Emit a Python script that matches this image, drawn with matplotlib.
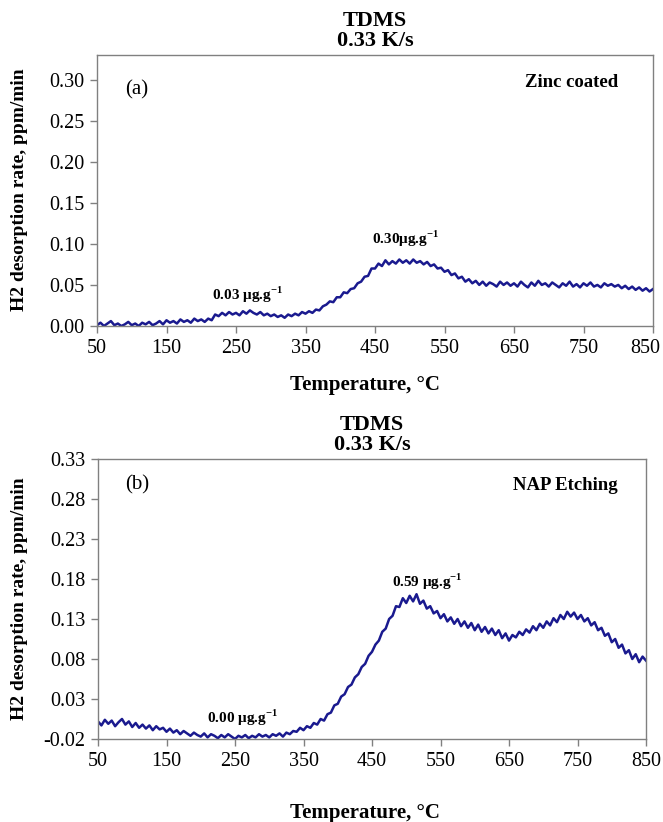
import numpy as np
import matplotlib
matplotlib.use("Agg")
import matplotlib.pyplot as plt
from matplotlib.transforms import ScaledTranslation

plt.rcParams['font.family'] = ['Liberation Serif', 'DejaVu Serif']
plt.rcParams['mathtext.fontset'] = 'custom'
plt.rcParams['mathtext.rm'] = 'Liberation Serif'
plt.rcParams['mathtext.bf'] = 'Liberation Serif:bold'
plt.rcParams['axes.unicode_minus'] = False

# Temperature axis, one reading every 5 degC
temp = np.arange(50, 851, 5)

# (a) Zinc coated, ppm/min
rate_a = [
    0.001, 0.004, 0.000, 0.003, 0.006, 0.001, 0.003, 0.000, 0.002, 0.005,
    0.001, 0.003, 0.000, 0.004, 0.002, 0.005, 0.001, 0.003, 0.006, 0.002,
    0.007, 0.004, 0.006, 0.003, 0.008, 0.005, 0.007, 0.004, 0.009, 0.006,
    0.008, 0.005, 0.009, 0.007, 0.014, 0.012, 0.016, 0.013, 0.017, 0.014,
    0.016, 0.013, 0.018, 0.015, 0.019, 0.016, 0.014, 0.017, 0.013, 0.015,
    0.012, 0.014, 0.011, 0.013, 0.010, 0.014, 0.012, 0.015, 0.013, 0.017,
    0.015, 0.018, 0.016, 0.020, 0.019, 0.024, 0.026, 0.030, 0.029, 0.035,
    0.035, 0.041, 0.040, 0.045, 0.046, 0.052, 0.054, 0.060, 0.061, 0.070,
    0.070, 0.076, 0.073, 0.080, 0.075, 0.079, 0.076, 0.081, 0.077, 0.080,
    0.076, 0.081, 0.077, 0.079, 0.075, 0.078, 0.073, 0.075, 0.070, 0.071,
    0.066, 0.068, 0.062, 0.064, 0.058, 0.060, 0.054, 0.057, 0.052, 0.055,
    0.050, 0.054, 0.049, 0.053, 0.051, 0.048, 0.054, 0.050, 0.053, 0.049,
    0.052, 0.048, 0.054, 0.050, 0.047, 0.053, 0.049, 0.055, 0.050, 0.052,
    0.048, 0.053, 0.050, 0.047, 0.052, 0.049, 0.054, 0.048, 0.051, 0.047,
    0.052, 0.049, 0.053, 0.048, 0.050, 0.047, 0.052, 0.049, 0.051, 0.048,
    0.050, 0.046, 0.049, 0.045, 0.048, 0.044, 0.047, 0.043, 0.046, 0.042,
    0.045,
]

# (b) NAP Etching, ppm/min
rate_b = [
    0.002, -0.003, 0.004, -0.001, 0.003, -0.004, 0.001, 0.005, -0.002, 0.002,
    -0.005, 0.000, -0.006, -0.002, -0.007, -0.003, -0.009, -0.004, -0.008, -0.006,
    -0.011, -0.007, -0.012, -0.009, -0.014, -0.010, -0.013, -0.016, -0.012, -0.015,
    -0.017, -0.013, -0.018, -0.014, -0.016, -0.019, -0.015, -0.018, -0.014, -0.017,
    -0.020, -0.016, -0.018, -0.015, -0.019, -0.016, -0.018, -0.014, -0.017, -0.015,
    -0.018, -0.014, -0.016, -0.013, -0.017, -0.012, -0.014, -0.010, -0.011, -0.006,
    -0.009, -0.004, -0.006, 0.000, -0.002, 0.005, 0.003, 0.011, 0.013, 0.022,
    0.024, 0.033, 0.036, 0.045, 0.048, 0.057, 0.061, 0.070, 0.074, 0.084,
    0.089, 0.098, 0.103, 0.114, 0.118, 0.130, 0.134, 0.146, 0.145, 0.156,
    0.150, 0.159, 0.152, 0.161, 0.149, 0.153, 0.143, 0.146, 0.137, 0.140,
    0.131, 0.136, 0.127, 0.132, 0.124, 0.130, 0.121, 0.127, 0.119, 0.125,
    0.116, 0.123, 0.114, 0.120, 0.112, 0.118, 0.110, 0.116, 0.106, 0.112,
    0.103, 0.110, 0.107, 0.114, 0.110, 0.117, 0.113, 0.121, 0.116, 0.124,
    0.119, 0.127, 0.122, 0.131, 0.126, 0.135, 0.130, 0.139, 0.133, 0.138,
    0.130, 0.135, 0.127, 0.131, 0.122, 0.126, 0.116, 0.119, 0.109, 0.112,
    0.101, 0.105, 0.094, 0.098, 0.087, 0.091, 0.080, 0.086, 0.076, 0.083,
    0.078,
]

x_ticks = [50, 150, 250, 350, 450, 550, 650, 750, 850]
y_ticks_a = [0.00, 0.05, 0.10, 0.15, 0.20, 0.25, 0.30]
y_ticks_b = [-0.02, 0.03, 0.08, 0.13, 0.18, 0.23, 0.28, 0.33]

W, H = 663, 822
fig = plt.figure(figsize=(W / 100, H / 100), dpi=100)

line_color = '#1a1a8f'
gray = '#808080'


def style_axes(ax, yticks, ylim):
    ax.set_xlim(50, 850)
    ax.set_ylim(*ylim)
    ax.set_xticks(x_ticks)
    ax.set_yticks(yticks)
    ax.set_yticklabels([f"{v:.2f}" for v in yticks])
    for s in ax.spines.values():
        s.set_color(gray)
        s.set_linewidth(1.0)
    ax.tick_params(direction='out', length=5, width=1.0, color=gray,
                   labelsize=14.5, labelcolor='black', pad=4)


def add_title(ax_top_px, xc_px):
    fig.text(xc_px / W, 1 - (ax_top_px - 34) / H, "TDMS", ha='center', va='center',
             fontsize=16, weight='bold')
    fig.text(xc_px / W, 1 - (ax_top_px - 14) / H, "0.33 K/s", ha='center', va='center',
             fontsize=16, weight='bold')


# ---- panel (a)
ax1 = fig.add_axes([97 / W, 1 - 326 / H, 556 / W, 271 / H])
ax1.plot(temp, rate_a, color=line_color, linewidth=1.8)
style_axes(ax1, y_ticks_a, (0, 0.33))
# last tick label sits a little left so it stays inside the picture
last = ax1.get_xticklabels()[-1]
last.set_transform(last.get_transform() + ScaledTranslation(-8 / 100, 0, fig.dpi_scale_trans))
add_title(55, 375)
ax1.text(0.05, 0.87, "(a)", transform=ax1.transAxes, fontsize=15, va='center')
ax1.text(0.937, 0.90, "Zinc coated", transform=ax1.transAxes, fontsize=13.5,
         weight='bold', ha='right', va='center')
ax1.text(215, 0.038, r"0.03 μg.g$^{\mathbf{-1}}$", fontsize=11, weight='bold', va='center')
ax1.text(446, 0.106, r"0.30μg.g$^{\mathbf{-1}}$", fontsize=11, weight='bold', va='center')
fig.text(365 / W, 1 - 385 / H, "Temperature, °C", ha='center', va='center',
         fontsize=15, weight='bold')
fig.text(20 / W, 1 - 190 / H, "H2 desorption rate, ppm/min", rotation=90,
         ha='center', va='center', fontsize=14, weight='bold')

# ---- panel (b)
ax2 = fig.add_axes([98 / W, 1 - 739 / H, 548 / W, 280 / H])
ax2.plot(temp, rate_b, color=line_color, linewidth=1.8)
style_axes(ax2, y_ticks_b, (-0.02, 0.33))
add_title(459, 372)
ax2.text(0.049, 0.907, "(b)", transform=ax2.transAxes, fontsize=15, va='center')
ax2.text(0.949, 0.907, "NAP Etching", transform=ax2.transAxes, fontsize=13.5,
         weight='bold', ha='right', va='center')
ax2.text(209, 0.006, r"0.00 μg.g$^{\mathbf{-1}}$", fontsize=11, weight='bold', va='center')
ax2.text(479, 0.176, r"0.59 μg.g$^{\mathbf{-1}}$", fontsize=11, weight='bold', va='center')
fig.text(365 / W, 1 - 813 / H, "Temperature, °C", ha='center', va='center',
         fontsize=15, weight='bold')
fig.text(20 / W, 1 - 599 / H, "H2 desorption rate, ppm/min", rotation=90,
         ha='center', va='center', fontsize=14, weight='bold')

fig.savefig("out.png", dpi=100)
